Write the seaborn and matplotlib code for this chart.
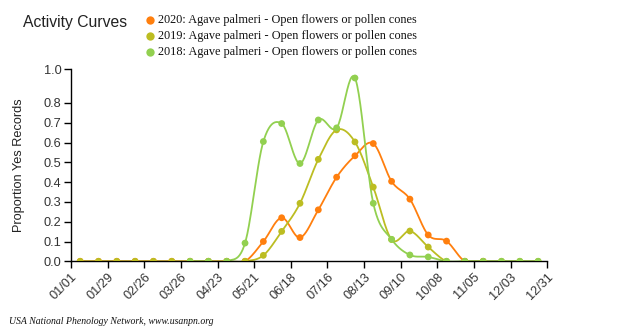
import numpy as np
import pandas as pd
import seaborn as sns
import matplotlib
matplotlib.use("Agg")
import matplotlib.pyplot as plt
from matplotlib.lines import Line2D

# Day-of-year sample positions (biweekly)
days = [7 + 14 * i for i in range(26)]

# Proportion of "yes" records per period
y2020 = [0, 0, 0, 0, 0, 0, 0, 0, 0, 0, 0.10, 0.22, 0.12, 0.26, 0.425, 0.533, 0.595,
         0.404, 0.314, 0.133, 0.102, 0, 0]
y2019 = [0, 0, 0, 0, 0, 0, 0, 0, 0, 0, 0.03, 0.151, 0.293, 0.515, 0.664, 0.603, 0.375,
         0.11, 0.153, 0.072, 0, 0, 0, 0, 0, 0]
y2018 = [0, 0, 0, 0.092, 0.605, 0.696, 0.494, 0.714, 0.674, 0.926, 0.293,
         0.111, 0.032, 0.022, 0, 0, 0, 0, 0, 0]
start2018 = 6

labels = ["2020: Agave palmeri - Open flowers or pollen cones",
          "2019: Agave palmeri - Open flowers or pollen cones",
          "2018: Agave palmeri - Open flowers or pollen cones"]
colors = ["#ff7f0e", "#bcbd22", "#92d050"]

xtick_days = [0, 28, 56, 84, 112, 140, 168, 196, 224, 252, 280, 308, 336, 364]
xtick_labels = ["01/01", "01/29", "02/26", "03/26", "04/23", "05/21", "06/18",
                "07/16", "08/13", "09/10", "10/08", "11/05", "12/03", "12/31"]
ytick_vals = [0, 0.1, 0.2, 0.3, 0.4, 0.5, 0.6, 0.7, 0.8, 0.97]
ytick_labels = ["0.0", "0.1", "0.2", "0.3", "0.4", "0.5", "0.6", "0.7", "0.8", "1.0"]


def cardinal(x, y, n=24):
    """Catmull-Rom spline through the points."""
    x = np.asarray(x, float)
    y = np.asarray(y, float)
    px = np.concatenate([[x[0]], x, [x[-1]]])
    py = np.concatenate([[y[0]], y, [y[-1]]])
    xs, ys = [], []
    for i in range(1, len(px) - 2):
        p0, p1, p2, p3 = py[i - 1], py[i], py[i + 1], py[i + 2]
        q0, q1, q2, q3 = px[i - 1], px[i], px[i + 1], px[i + 2]
        t = np.linspace(0, 1, n, endpoint=False)
        h00 = 2 * t**3 - 3 * t**2 + 1
        h10 = t**3 - 2 * t**2 + t
        h01 = -2 * t**3 + 3 * t**2
        h11 = t**3 - t**2
        m1y, m2y = (p2 - p0) / 2, (p3 - p1) / 2
        m1x, m2x = (q2 - q0) / 2, (q3 - q1) / 2
        ys.append(h00 * p1 + h10 * m1y + h01 * p2 + h11 * m2y)
        xs.append(h00 * q1 + h10 * m1x + h01 * q2 + h11 * m2x)
    xs.append([x[-1]])
    ys.append([y[-1]])
    return np.concatenate(xs), np.concatenate(ys)


sns.set_theme(style="ticks")
plt.rcParams["font.family"] = ["Liberation Sans", "DejaVu Sans"]

fig = plt.figure(figsize=(6.18, 3.32), dpi=100)
ax = fig.add_axes([71 / 618, 1 - 261.3 / 332, (547.3 - 71) / 618, (261.3 - 69.3) / 332])

series = [
    (days[:len(y2020)], y2020, colors[0]),
    (days[:len(y2019)], y2019, colors[1]),
    (days[start2018:start2018 + len(y2018)], y2018, colors[2]),
]
for xd, yd, c in series:
    sx, sy = cardinal(xd, yd)
    curve = pd.DataFrame({"day": sx, "value": sy})
    pts = pd.DataFrame({"day": xd, "value": yd})
    sns.lineplot(data=curve, x="day", y="value", color=c, linewidth=1.3,
                 ax=ax, sort=False, estimator=None)
    sns.scatterplot(data=pts, x="day", y="value", color=c, s=24,
                    edgecolor="none", ax=ax, zorder=3)

ax.set_xlim(0, 364)
ax.set_ylim(0, 0.97)
ax.set_xticks(xtick_days)
ax.set_xticklabels(xtick_labels, rotation=45, ha="right", rotation_mode="anchor")
ax.set_yticks(ytick_vals)
ax.set_yticklabels(ytick_labels)
ax.tick_params(axis="both", labelsize=9.2, colors="black", length=5, width=1,
               direction="out", pad=2, labelcolor="#333333")
ax.set_xlabel("")
ax.set_ylabel("Proportion Yes Records", fontsize=9.2, color="#222222", labelpad=13)
for s in ["top", "right"]:
    ax.spines[s].set_visible(False)
for s in ["left", "bottom"]:
    ax.spines[s].set_color("black")
    ax.spines[s].set_linewidth(1)

fig.text(23 / 618, 1 - 22 / 332, "Activity Curves", fontsize=11.3,
         color="#222222", va="center", ha="left")

rows_y = [20, 36, 52]
for ly, lab, c in zip(rows_y, labels, colors):
    fig.add_artist(Line2D([149.5 / 618], [1 - ly / 332], marker="o", markersize=6,
                          color=c, markeredgewidth=0, transform=fig.transFigure))
    fig.text(158 / 618, 1 - ly / 332, lab, fontsize=8.85, family="Liberation Serif",
             va="center", ha="left", color="#111111")

fig.text(9 / 618, 1 - 321 / 332, "USA National Phenology Network, www.usanpn.org",
         fontsize=7.0, family="Liberation Serif", style="italic", va="center",
         ha="left", color="#111111")

fig.savefig("out.png", dpi=100)
